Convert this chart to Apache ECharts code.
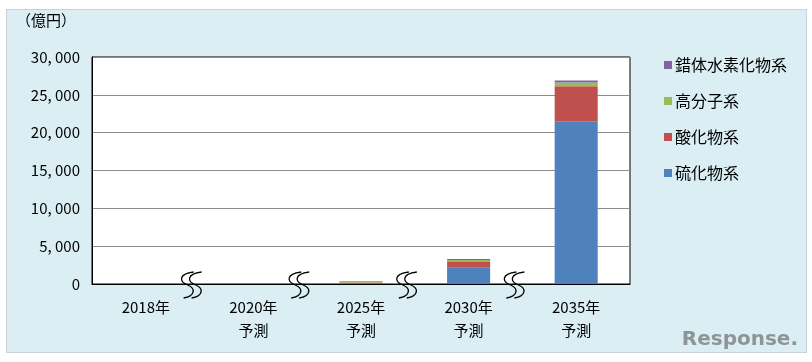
<!DOCTYPE html>
<html><head><meta charset="utf-8">
<script src="https://cdn.jsdelivr.net/npm/echarts@6/dist/echarts.min.js"></script>
<style>
html,body{margin:0;padding:0;background:#fff;}
#panel{position:absolute;left:6px;top:9px;width:799px;height:342px;background:#DAEEF3;border:1px solid #c8d2d6;}
#c{position:absolute;left:0;top:0;width:812px;height:362px;}
</style></head><body>
<div id="panel"></div>
<div id="c"></div>
<script>
const categories = ['2018年', '2020年', '2025年', '2030年', '2035年'];
const subLabels = ['', '予測', '予測', '予測', '予測'];
const sulfide = [5, 15, 80, 2150, 21500];     // 硫化物系
const oxide = [3, 8, 120, 750, 4650];         // 酸化物系
const polymer = [2, 5, 150, 270, 480];        // 高分子系
const hydride = [0, 2, 50, 130, 260];         // 錯体水素化物系
const yTicks = [0, 5000, 10000, 15000, 20000, 25000, 30000];

const font = '"Noto Sans CJK JP", "Noto Sans", sans-serif';
const chart = echarts.init(document.getElementById('c'), null, {renderer: 'canvas'});
const fmt = v => v === 0 ? '0' : (Math.floor(v / 1000) + ', ' + String(v % 1000).padStart(3, '0'));

chart.setOption({
  backgroundColor: 'transparent',
  animation: false,
  textStyle: {fontFamily: font},
  grid: {left: 92, right: 182, top: 57, bottom: 78, show: true, backgroundColor: '#fff', borderColor: '#000', borderWidth: 1},
  legend: {
    orient: 'vertical', left: 659, top: 52,
    itemWidth: 8, itemHeight: 8, itemGap: 20,
    icon: 'rect',
    textStyle: {fontSize: 16, color: '#000', fontFamily: font, padding: [0, 0, 0, -2]},
    data: ['錯体水素化物系', '高分子系', '酸化物系', '硫化物系']
  },
  xAxis: {
    type: 'category', data: categories,
    axisLine: {lineStyle: {color: '#000', width: 1}},
    axisTick: {show: false},
    axisLabel: {
      interval: 0, margin: 12, color: '#000', fontSize: 15, lineHeight: 23,
      formatter: (v, i) => subLabels[i] ? v + '\n' + subLabels[i] : v
    }
  },
  yAxis: {
    type: 'value', min: 0, max: 30000, interval: 5000,
    axisLine: {show: true, lineStyle: {color: '#000'}},
    axisTick: {show: false},
    axisLabel: {color: '#000', fontSize: 15, margin: 12, formatter: fmt},
    splitLine: {lineStyle: {color: '#8c8c8c', width: 1}}
  },
  series: [
    {name: '硫化物系', type: 'bar', stack: 't', data: sulfide, barWidth: '40%', itemStyle: {color: '#4F81BD'}},
    {name: '酸化物系', type: 'bar', stack: 't', data: oxide, itemStyle: {color: '#C0504D'}},
    {name: '高分子系', type: 'bar', stack: 't', data: polymer, itemStyle: {color: '#9BBB59'}},
    {name: '錯体水素化物系', type: 'bar', stack: 't', data: hydride, itemStyle: {color: '#8064A2'}}
  ]
});

// axis break squiggles between categories
const graphics = [];
const y0 = chart.convertToPixel({yAxisIndex: 0}, 0);
for (let i = 0; i < categories.length - 1; i++) {
  const a = chart.convertToPixel({xAxisIndex: 0}, i);
  const b = chart.convertToPixel({xAxisIndex: 0}, i + 1);
  const x = (a + b) / 2 - 18;
  [0, 8].forEach(dx => {
    const ox = x + dx, oy = y0 - 12;
    graphics.push({type: 'bezierCurve', silent: true, z: 100,
      shape: {x1: ox + 12, y1: oy, cpx1: ox - 4, cpy1: oy + 2, cpx2: ox - 2, cpy2: oy + 10, x2: ox + 6, y2: oy + 13},
      style: {fill: null, stroke: '#000', lineWidth: 1.3}});
    graphics.push({type: 'bezierCurve', silent: true, z: 100,
      shape: {x1: ox + 6, y1: oy + 13, cpx1: ox + 14, cpy1: oy + 16, cpx2: ox + 14, cpy2: oy + 24, x2: ox + 2, y2: oy + 26},
      style: {fill: null, stroke: '#000', lineWidth: 1.3}});
  });
}
graphics.push({type: 'text', left: 16, top: 13,
  style: {text: '（億円）', fill: '#000', font: '15px "Noto Sans CJK JP", sans-serif'}});
graphics.push({type: 'text', right: 14, bottom: 12,
  style: {text: 'Response.', fill: '#8f9496', font: 'bold 20px "DejaVu Sans", sans-serif'}});
chart.setOption({graphic: graphics});
</script>
</body></html>
